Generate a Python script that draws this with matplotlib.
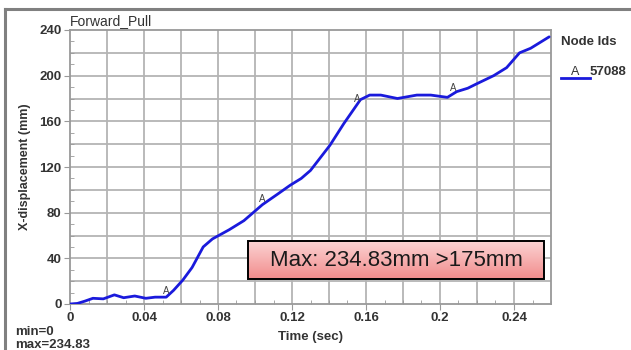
import numpy as np
import matplotlib.pyplot as plt
from matplotlib.patches import Rectangle
from matplotlib.lines import Line2D

# curve (time in sec, x-displacement in mm)
time_s = [0.0, 0.004, 0.008, 0.0124, 0.018, 0.024, 0.029, 0.035, 0.041, 0.046,
          0.052, 0.056, 0.061, 0.066, 0.072, 0.077, 0.086, 0.094, 0.104, 0.112,
          0.119, 0.125, 0.130, 0.1405, 0.148, 0.157, 0.162, 0.168, 0.177, 0.1875,
          0.195, 0.204, 0.209, 0.215, 0.220, 0.229, 0.236, 0.243, 0.249, 0.254,
          0.259]
disp_mm = [0, 0.5, 2.5, 5, 4.5, 8, 5.5, 7, 5, 6,
           6, 12, 21, 32, 50, 57, 65, 73, 87, 96,
           104, 110, 117, 139, 158, 179, 183, 183, 180, 183,
           183, 181, 186, 189, 193, 200, 207, 220, 224, 229,
           234]
marker_t = [0.052, 0.104, 0.155, 0.207]
node_id = "57088"
max_val = 234.83
limit_val = 175

plt.rcParams['font.family'] = ['Liberation Sans', 'DejaVu Sans']
fig = plt.figure(figsize=(6.31, 3.5), dpi=100)
ax = fig.add_axes([70/631, 46/350, 481/631, 274/350])

ax.plot(time_s, disp_mm, color='#1a1adc', lw=2.0, zorder=3,
        solid_joinstyle='round', solid_capstyle='round')
for t in marker_t:
    v = np.interp(t, time_s, disp_mm)
    ax.text(t, v + 1, "A", fontsize=7, color='#444444', ha='center', va='bottom', zorder=4)

ax.set_xlim(0, 0.26)
ax.set_ylim(0, 240)
ax.set_xticks(np.arange(0, 0.25, 0.04))
ax.set_xticklabels(["0", "0.04", "0.08", "0.12", "0.16", "0.2", "0.24"])
ax.set_xticks(np.arange(0, 0.261, 0.01), minor=True)
ax.set_yticks(np.arange(0, 241, 40))
ax.set_yticks(np.arange(0, 241, 10), minor=True)
for x in np.arange(0.02, 0.26, 0.02):
    ax.axvline(x, color='#b4b4b4', lw=1.3, zorder=1)
for y in np.arange(20, 240, 20):
    ax.axhline(y, color='#b4b4b4', lw=1.3, zorder=1)
ax.tick_params(which='major', direction='out', length=4, color='#999999',
               labelsize=9.5, labelcolor='#333333', pad=2)
ax.tick_params(which='minor', direction='in', length=3, color='#999999')
for lab in ax.get_xticklabels() + ax.get_yticklabels():
    lab.set_fontweight('bold')
for s in ax.spines.values():
    s.set_color('#999999')
    s.set_linewidth(1.3)

ax.set_xlabel("Time (sec)", fontsize=9.5, fontweight='bold', color='#333333', labelpad=5)
ax.set_ylabel("X-displacement (mm)", fontsize=9, fontweight='bold', color='#333333', labelpad=6)
ax.text(0.0, 1.008, "Forward_Pull", transform=ax.transAxes, fontsize=10,
        color='#333333', ha='left', va='bottom')

# legend
fig.text(561/631, 1 - 42/350, "Node Ids", fontsize=9.5, fontweight='bold', color='#333333', va='center')
fig.add_artist(Line2D([561/631, 590/631], [1 - 78/350, 1 - 78/350], color='#1a1adc', lw=2))
fig.text(575/631, 1 - 72/350, "A", fontsize=9, color='#333333', ha='center', va='center')
fig.text(590/631, 1 - 72/350, node_id, fontsize=9.5, fontweight='bold', color='#333333', va='center')

# min / max notes
fig.text(15/631, 1 - 332/350, "min=0", fontsize=9.5, fontweight='bold', color='#333333', va='center')
fig.text(15/631, 1 - 345/350, f"max={max_val}", fontsize=9.5, fontweight='bold', color='#333333', va='center')

# outer frame (top and left edges)
fig.add_artist(Line2D([5/631, 1.0], [1 - 9/350, 1 - 9/350], color='#808080', lw=2.2))
fig.add_artist(Line2D([5/631, 5/631], [0, 1 - 9/350], color='#808080', lw=2.2))

# annotation box with a light gradient fill
bx, by, bw, bh = 248/631, 1 - 279/350, 296/631, 38/350
gax = fig.add_axes([bx, by, bw, bh])
grad = np.linspace(0, 1, 64).reshape(-1, 1)
gax.imshow(grad, aspect='auto', cmap=plt.matplotlib.colors.LinearSegmentedColormap.from_list(
    'pinkgrad', ['#fbd3d3', '#f28c8c']), extent=[0, 1, 0, 1])
gax.set_axis_off()
fig.add_artist(Rectangle((bx, by), bw, bh, transform=fig.transFigure, fill=False,
                         edgecolor='black', lw=1.4))
fig.text(bx + bw/2, by + bh/2, f"Max: {max_val}mm >{limit_val}mm", fontsize=16,
         color='#1a1a1a', ha='center', va='center')

fig.savefig("out.png", dpi=100)
